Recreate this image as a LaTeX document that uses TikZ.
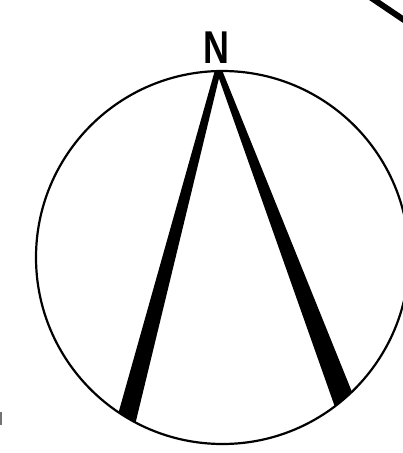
\documentclass[tikz,border=0pt]{standalone}
\usepackage{fontspec}
\setsansfont{Liberation Sans}
\begin{document}
\begin{tikzpicture}[x=1pt,y=-1pt,
  rim/.style={line width=2.2pt,draw=black},
  wedge/.style={fill=black,draw=none},
  label/.style={font=\sffamily\bfseries\fontsize{46}{46}\selectfont,inner sep=0pt,xscale=0.78}]
\useasboundingbox[fill=white] (0,0) rectangle (403,453);
\coordinate (c) at (222.5,257.5);
\begin{scope}
  \clip (c) circle (186.5);
  \fill[wedge] (215,70) -- (221,70) -- (135,425) -- (117,418) -- cycle;
  \fill[wedge] (216,70) -- (222,70) -- (352,392) -- (336,410) -- cycle;
\end{scope}
\draw[rim] (c) circle (186.5);
\node[label] (n) at (216.5,48) {N};
\draw[line width=6pt] (370,-3) -- (407,22);
\draw[line width=2.5pt,draw=black!55] (1,412) -- (1,425);
\end{tikzpicture}
\end{document}
